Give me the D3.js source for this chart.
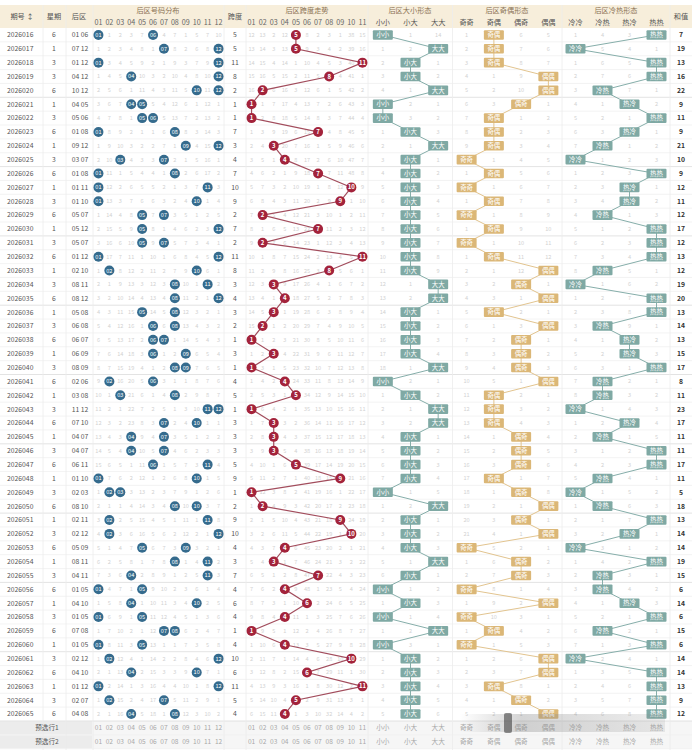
<!DOCTYPE html>
<html><head><meta charset="utf-8">
<script src="https://cdn.jsdelivr.net/npm/d3@7/dist/d3.min.js"></script>
<style>
body{margin:0;background:#fff}
svg{display:block;font-family:"Noto Sans CJK SC","Noto Sans","DejaVu Sans",sans-serif}
</style>
</head><body>
<svg id="chart" width="692" height="750"></svg>
<script>
// draw data
var issues = ["2026016","2026017","2026018","2026019","2026020","2026021","2026022","2026023","2026024","2026025",
  "2026026","2026027","2026028","2026029","2026030","2026031","2026032","2026033","2026034","2026035",
  "2026036","2026037","2026038","2026039","2026040","2026041","2026042","2026043","2026044","2026045",
  "2026046","2026047","2026048","2026049","2026050","2026051","2026052","2026053","2026054","2026055",
  "2026056","2026057","2026058","2026059","2026060","2026061","2026062","2026063","2026064","2026065"];
var weekdays = [6,1,3,3,6,1,3,6,1,3, 6,1,3,6,1,3,6,1,3,6, 1,3,6,1,3,6,1,3,6,1, 3,6,1,3,6,1,3,6,1,3, 6,1,3,6,1,3,6,1,3,6];
var backNums = [[1,6],[7,12],[1,12],[4,12],[10,12],[4,5],[5,6],[1,8],[9,12],[3,7],
  [1,8],[1,11],[1,10],[5,7],[5,12],[5,7],[1,12],[2,10],[8,11],[8,12],
  [5,8],[6,8],[6,7],[6,9],[8,9],[2,6],[3,8],[11,12],[7,10],[4,7],
  [4,7],[6,11],[1,10],[2,3],[8,10],[2,11],[2,12],[5,9],[8,11],[4,11],
  [1,5],[4,10],[1,5],[7,8],[1,5],[2,12],[4,10],[1,12],[2,7],[4,8]];
var hotCold = ["热热","冷冷","热热","热热","冷热","热冷","热热","热冷","冷热","冷冷",
  "热热","热冷","热冷","冷热","热热","热热","热热","冷热","冷冷","热热",
  "热热","冷热","热冷","热冷","热热","冷热","冷热","冷冷","热冷","冷热",
  "热热","热热","冷热","冷冷","冷热","热热","热冷","冷冷","热热","冷热",
  "冷热","热冷","热热","冷热","热热","冷冷","热热","热热","热热","热热"];

// missing counts shown on the first row
var distFirst = [0,1,2,3,7,0,4,7,1,5,7,10];
var spanFirst = [12,13,2,12,0,8,2,3,1,38,15];
var sizeFirst = [0,1,14];
var oeFirst = [1,0,6,5];
var hcFirst = [1,4,3,0];

// column labels
var distLabels = ["01","02","03","04","05","06","07","08","09","10","11","12"];
var spanLabels = ["01","02","03","04","05","06","07","08","09","10","11"];
var sizeLabels = ["小小","小大","大大"];
var oeLabels = ["奇奇","奇偶","偶奇","偶偶"];
var hcLabels = ["冷冷","冷热","热冷","热热"];
var predRows = ["预选行1","预选行2"];

function pad(n){ return (n < 10 ? "0" : "") + n; }

var rows = issues.map(function(id, i){
  var a = backNums[i][0], b = backNums[i][1];
  return {
    id: id, week: weekdays[i], a: a, b: b,
    span: b - a,
    size: (a <= 6 ? "小" : "大") + (b <= 6 ? "小" : "大"),
    oe: (a % 2 ? "奇" : "偶") + (b % 2 ? "奇" : "偶"),
    hc: hotCold[i],
    sum: a + b
  };
});

// missing counts: 0 where hit, else previous + 1
function missing(labels, first, hit){
  var prev = null;
  return rows.map(function(r, i){
    var cur = labels.map(function(l, c){
      if (hit(r, l)) return 0;
      return i == 0 ? first[c] : prev[c] + 1;
    });
    prev = cur;
    return cur;
  });
}
var distMiss = missing(distLabels, distFirst, function(r, l){ return +l == r.a || +l == r.b; });
var spanMiss = missing(spanLabels, spanFirst, function(r, l){ return +l == r.span; });
var sizeMiss = missing(sizeLabels, sizeFirst, function(r, l){ return l == r.size; });
var oeMiss = missing(oeLabels, oeFirst, function(r, l){ return l == r.oe; });
var hcMiss = missing(hcLabels, hcFirst, function(r, l){ return l == r.hc; });

var svg = d3.select("#chart");
var W = 692;
var top0 = 28, rowH = 13.86;

var y = d3.scaleBand().domain(issues.concat(predRows)).range([top0, top0 + rowH * 52]);
var yc = function(k){ return y(k) + y.bandwidth() / 2; };
var xDist = d3.scaleBand().domain(distLabels).range([93, 224]);
var xSpan = d3.scaleBand().domain(spanLabels).range([246, 368]);
var xSize = d3.scaleBand().domain(sizeLabels).range([369, 452]);
var xOE = d3.scaleBand().domain(oeLabels).range([453, 562]);
var xHC = d3.scaleBand().domain(hcLabels).range([562, 670]);
var cx = function(s, k){ return s(k) + s.bandwidth() / 2; };

// header
svg.append("rect").attr("x", 0).attr("y", 5).attr("width", W).attr("height", top0 - 5).attr("fill", "#f7eedb");

// prediction rows background
predRows.forEach(function(p){
  svg.append("rect").attr("x", 0).attr("y", y(p)).attr("width", W).attr("height", y.bandwidth()).attr("fill", "#f6f6f6");
  svg.append("rect").attr("x", 0).attr("y", y(p) + 0.5).attr("width", 92).attr("height", y.bandwidth() - 1).attr("fill", "#ececec");
});

// horizontal lines
var hl = svg.append("g");
issues.concat(predRows).forEach(function(k, i){
  hl.append("line").attr("x1", 0).attr("x2", W).attr("y1", y(k) + y.bandwidth()).attr("y2", y(k) + y.bandwidth())
    .attr("stroke", (i + 1) % 5 == 0 && i < 50 ? "#dcdcdc" : "#f0f0f0").attr("stroke-width", 0.8);
});

// vertical lines
[43, 66, 93, 224, 246, 368, 452.5, 562, 670].forEach(function(x){
  svg.append("line").attr("x1", x).attr("x2", x).attr("y1", 5).attr("y2", 750).attr("stroke", "#ececec").attr("stroke-width", 0.8);
});

// header texts
var hd = svg.append("g").attr("text-anchor", "middle").attr("font-size", 7.2).attr("fill", "#8b7355");
function htext(x, yy, t, fill){ hd.append("text").attr("x", x).attr("y", yy).attr("dy", "0.35em").attr("fill", fill || "#8b7355").text(t); }
htext(22, 16.5, "期号 ↕", "#555");
htext(54, 16.5, "星期", "#555");
htext(79, 16.5, "后区", "#555");
htext(158, 10.5, "后区号码分布");
htext(235, 16.5, "跨度", "#555");
htext(307, 10.5, "后区跨度走势");
htext(410, 10.5, "后区大小形态");
htext(507, 10.5, "后区奇偶形态");
htext(616, 10.5, "后区冷热形态");
htext(681, 16.5, "和值", "#555");
distLabels.forEach(function(l){ htext(cx(xDist, l), 22, l, "#666"); });
spanLabels.forEach(function(l){ htext(cx(xSpan, l), 22, l, "#666"); });
sizeLabels.forEach(function(l){ htext(cx(xSize, l), 22, l, "#555"); });
oeLabels.forEach(function(l){ htext(cx(xOE, l), 22, l, "#555"); });
hcLabels.forEach(function(l){ htext(cx(xHC, l), 22, l, "#555"); });

// row texts
var body = svg.append("g").attr("font-size", 6.8).attr("fill", "#555");
rows.forEach(function(r, i){
  var yy = yc(r.id);
  body.append("text").attr("x", 7).attr("y", yy).attr("dy", "0.35em").text(r.id);
  body.append("text").attr("x", 54).attr("y", yy).attr("dy", "0.35em").attr("text-anchor", "middle").text(r.week);
  body.append("text").attr("x", 80).attr("y", yy).attr("dy", "0.35em").attr("text-anchor", "middle").text(pad(r.a) + " " + pad(r.b));
  body.append("text").attr("x", 235).attr("y", yy).attr("dy", "0.35em").attr("text-anchor", "middle").text(r.span);
  body.append("text").attr("x", 681).attr("y", yy).attr("dy", "0.35em").attr("text-anchor", "middle")
    .attr("fill", "#333").attr("font-weight", "bold").text(r.sum);
});

// missing counts
var miss = svg.append("g").attr("font-size", 5.6).attr("fill", "#d2d2d2").attr("text-anchor", "middle");
function drawMiss(scale, labels, data){
  rows.forEach(function(r, i){
    labels.forEach(function(l, c){
      if (data[i][c] > 0)
        miss.append("text").attr("x", cx(scale, l)).attr("y", yc(r.id)).attr("dy", "0.35em").text(data[i][c]);
    });
  });
}
drawMiss(xDist, distLabels, distMiss);
drawMiss(xSpan, spanLabels, spanMiss);
drawMiss(xSize, sizeLabels, sizeMiss);
drawMiss(xOE, oeLabels, oeMiss);
drawMiss(xHC, hcLabels, hcMiss);

// trend lines
function trend(scale, key, color, w){
  var line = d3.line().x(function(r){ return cx(scale, key(r)); }).y(function(r){ return yc(r.id); });
  svg.append("path").attr("d", line(rows)).attr("fill", "none").attr("stroke", color).attr("stroke-width", w);
}
trend(xSpan, function(r){ return pad(r.span); }, "#a24c5c", 1.2);
trend(xSize, function(r){ return r.size; }, "#86aeaa", 1);
trend(xOE, function(r){ return r.oe; }, "#e2c48f", 1);
trend(xHC, function(r){ return r.hc; }, "#86aeaa", 1);

// distribution balls
var balls = svg.append("g");
rows.forEach(function(r){
  [r.a, r.b].forEach(function(n){
    var g = balls.append("g").attr("transform", "translate(" + cx(xDist, pad(n)) + "," + yc(r.id) + ")");
    g.append("circle").attr("r", 5).attr("fill", "#356b8d");
    g.append("text").attr("text-anchor", "middle").attr("dy", "0.35em").attr("font-size", 5.6).attr("fill", "#fff").text(pad(n));
  });
  var g = balls.append("g").attr("transform", "translate(" + cx(xSpan, pad(r.span)) + "," + yc(r.id) + ")");
  g.append("circle").attr("r", 5).attr("fill", "#a3233b");
  g.append("text").attr("text-anchor", "middle").attr("dy", "0.35em").attr("font-size", 6).attr("font-weight", "bold")
    .attr("fill", "#fff").text(r.span);
});

// pattern tags
function tags(scale, key, color){
  rows.forEach(function(r){
    var g = svg.append("g").attr("transform", "translate(" + cx(scale, key(r)) + "," + yc(r.id) + ")");
    g.append("rect").attr("x", -10).attr("y", -4.8).attr("width", 20).attr("height", 9.6).attr("rx", 1).attr("fill", color);
    g.append("text").attr("text-anchor", "middle").attr("dy", "0.35em").attr("font-size", 6.4).attr("fill", "#fff").text(key(r));
  });
}
tags(xSize, function(r){ return r.size; }, "#7fa9a4");
tags(xOE, function(r){ return r.oe; }, "#dbb777");
tags(xHC, function(r){ return r.hc; }, "#7fa9a4");

// prediction rows
var pr = svg.append("g").attr("font-size", 6.6).attr("fill", "#a8a8a8").attr("text-anchor", "middle");
predRows.forEach(function(p){
  var yy = yc(p);
  pr.append("text").attr("x", 47).attr("y", yy).attr("dy", "0.35em").attr("fill", "#555").text(p);
  distLabels.forEach(function(l){ pr.append("text").attr("x", cx(xDist, l)).attr("y", yy).attr("dy", "0.35em").text(l); });
  spanLabels.forEach(function(l){ pr.append("text").attr("x", cx(xSpan, l)).attr("y", yy).attr("dy", "0.35em").text(l); });
  sizeLabels.forEach(function(l){ pr.append("text").attr("x", cx(xSize, l)).attr("y", yy).attr("dy", "0.35em").text(l); });
  oeLabels.forEach(function(l){ pr.append("text").attr("x", cx(xOE, l)).attr("y", yy).attr("dy", "0.35em").text(l); });
  hcLabels.forEach(function(l){ pr.append("text").attr("x", cx(xHC, l)).attr("y", yy).attr("dy", "0.35em").text(l); });
});

// faint scroll-bar shadow seen over the last rows
var grad = svg.append("defs").append("linearGradient").attr("id", "bar");
grad.append("stop").attr("offset", "0").attr("stop-color", "#888").attr("stop-opacity", 0);
grad.append("stop").attr("offset", "0.3").attr("stop-color", "#888").attr("stop-opacity", 0.35);
grad.append("stop").attr("offset", "1").attr("stop-color", "#888").attr("stop-opacity", 0.15);
svg.append("rect").attr("x", 460).attr("y", 714).attr("width", 205).attr("height", 18).attr("fill", "url(#bar)");
svg.append("rect").attr("x", 504).attr("y", 713).attr("width", 8).attr("height", 20).attr("rx", 2).attr("fill", "#333").attr("opacity", 0.55);
</script>
</body></html>
